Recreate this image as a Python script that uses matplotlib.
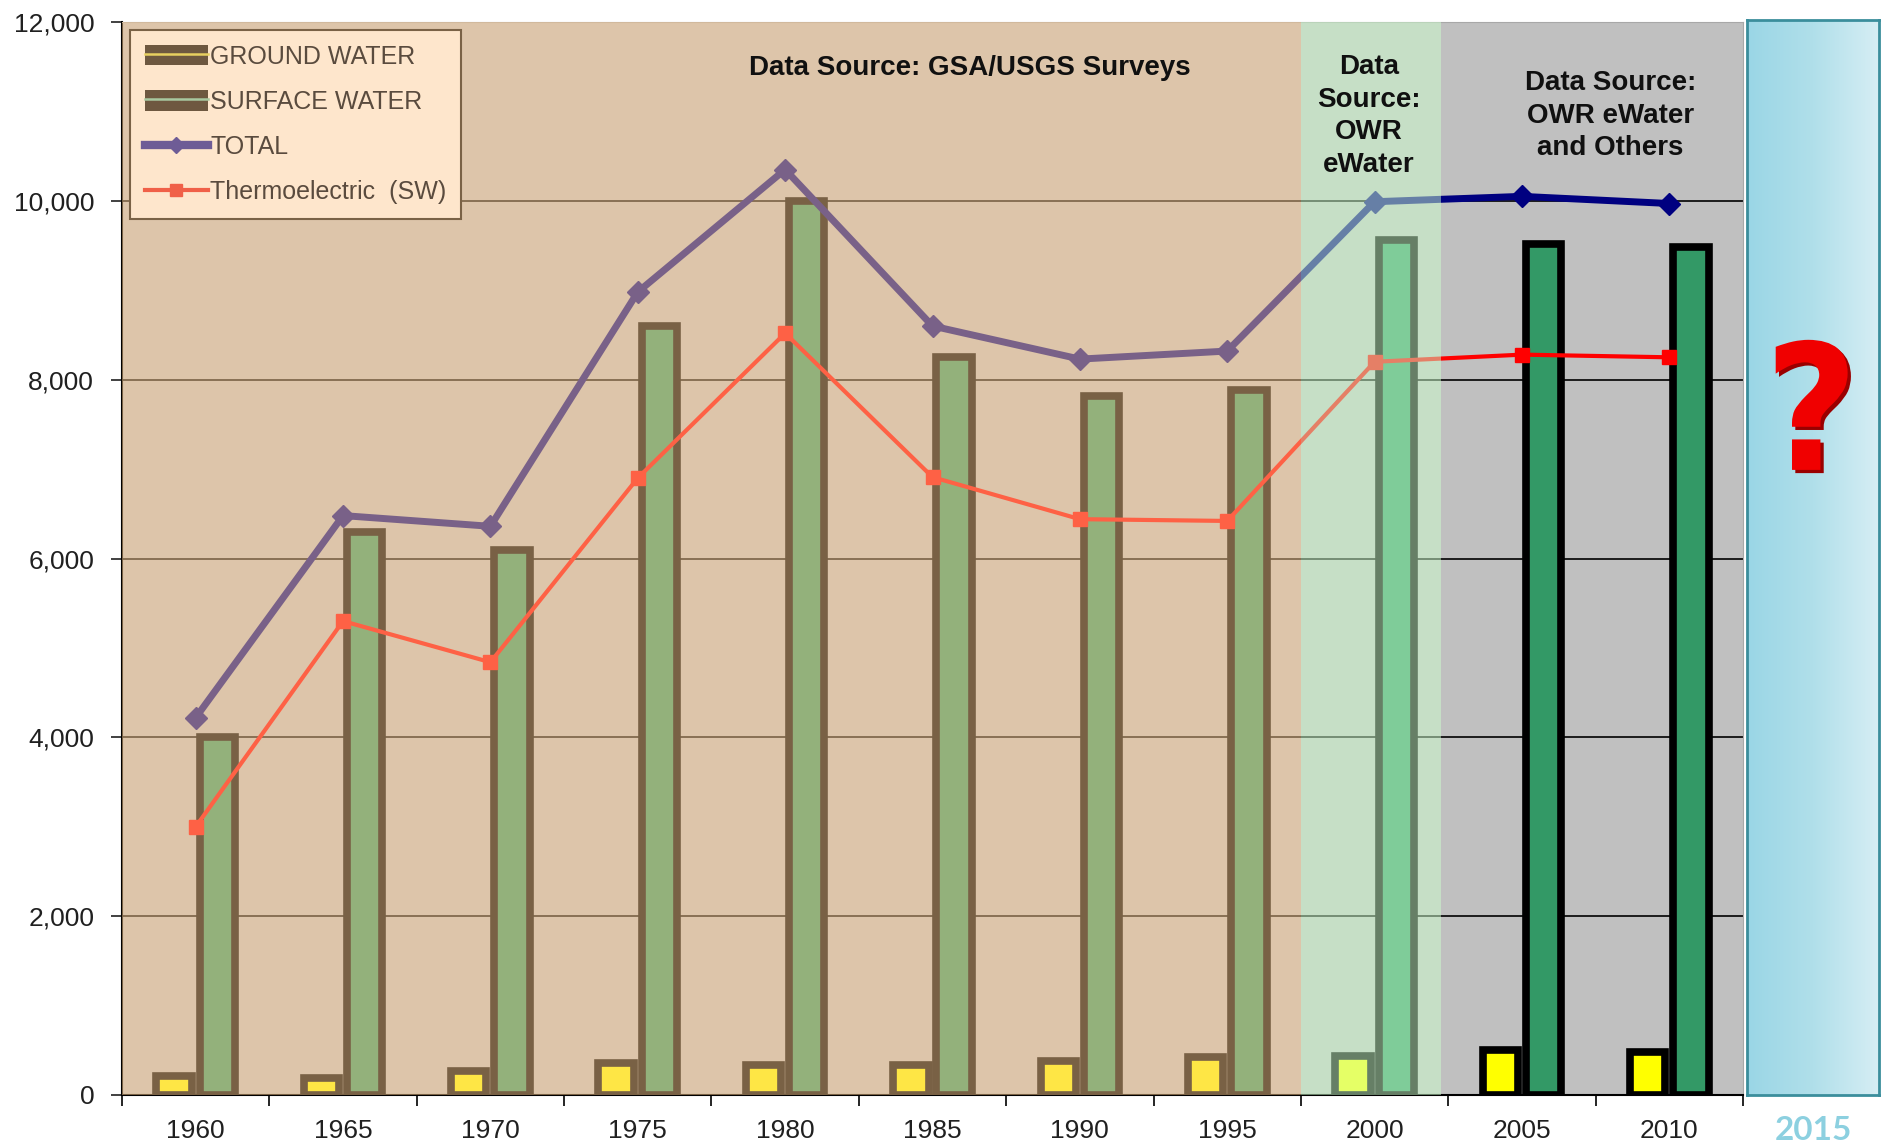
import numpy as np
import matplotlib
matplotlib.use('Agg')
import matplotlib.pyplot as plt
from matplotlib.lines import Line2D
from matplotlib.patches import Patch, PathPatch
from matplotlib.colors import LinearSegmentedColormap
from matplotlib.textpath import TextPath
from matplotlib.font_manager import FontProperties
from matplotlib.transforms import Affine2D

# water use values
years = ['1960', '1965', '1970', '1975', '1980', '1985', '1990', '1995', '2000', '2005', '2010']
ground_water = [210, 190, 270, 360, 340, 340, 380, 420, 440, 500, 480]
surface_water = [4000, 6300, 6100, 8600, 10000, 8250, 7820, 7880, 9560, 9520, 9480]
total = [4220, 6480, 6360, 8980, 10350, 8600, 8230, 8320, 9990, 10050, 9970]
thermoelectric = [3000, 5300, 4840, 6900, 8520, 6910, 6440, 6420, 8200, 8280, 8250]
y_ticks = [0, 2000, 4000, 6000, 8000, 10000, 12000]
future_year = '2015'

plt.rcParams['font.family'] = ['Liberation Sans', 'DejaVu Sans']

W, H = 1885, 1147
fig = plt.figure(figsize=(W / 100, H / 100), dpi=100)
ax = fig.add_axes([122 / W, 1 - 1095 / H, (1743 - 122) / W, (1095 - 22) / H])
ax.set_facecolor('#C0C0C0')

x = np.arange(len(years))
bw = 0.24
off = 0.147
ax.bar(x - off, ground_water, bw, color='#FFFF00', edgecolor='black', linewidth=5.5, zorder=2)
ax.bar(x + off, surface_water, bw, color='#339966', edgecolor='black', linewidth=5.5, zorder=2)
ax.plot(x, total, color='#000080', lw=5, marker='D', ms=11, zorder=3)
ax.plot(x, thermoelectric, color='#FF0000', lw=3, marker='s', ms=10, zorder=3)

ax.set_xlim(-0.5, len(years) - 0.5)
ax.set_ylim(0, 12000)
ax.set_yticks(y_ticks)
ax.set_yticklabels([f'{v:,}' for v in y_ticks])
ax.yaxis.grid(True, color='black', lw=1.2)
ax.set_axisbelow(True)

ax.set_xticks(x)
ax.set_xticklabels(years)
ax.set_xticks(np.arange(len(years) + 1) - 0.5, minor=True)
ax.tick_params(axis='x', which='major', length=0, pad=17, labelsize=19, colors='#202020')
ax.tick_params(axis='x', which='minor', length=8, width=1.2, color='black')
ax.tick_params(axis='y', length=8, width=1.2, pad=12, labelsize=19, colors='#202020')

for s in ['top', 'right']:
    ax.spines[s].set_color('#A8A8A8')
ax.spines['left'].set_color('black')
ax.spines['left'].set_linewidth(1.5)
ax.spines['bottom'].set_linewidth(1.5)

# translucent data-source regions
ax.axvspan(-0.5, 7.5, color='#FECC92', alpha=0.48, lw=0, zorder=5)
ax.axvspan(7.5, 8.45, color='#CCFFCC', alpha=0.5, lw=0, zorder=5)

# legend, coloured as it looks through the tan overlay
brown = '#6E5840'
handles = [
    (Patch(facecolor=brown, edgecolor='none'), Line2D([], [], color='#E8D060', lw=1.8)),
    (Patch(facecolor=brown, edgecolor='none'), Line2D([], [], color='#A8C8A0', lw=1.8)),
    Line2D([], [], color='#6E5C96', lw=6, marker='D', ms=8),
    Line2D([], [], color='#F06048', lw=3, marker='s', ms=9),
]
labels = ['GROUND WATER', 'SURFACE WATER', 'TOTAL', 'Thermoelectric  (SW)']
leg = ax.legend(handles, labels, loc='upper left', bbox_to_anchor=(0.005, 0.993),
                borderaxespad=0, fontsize=18, fancybox=False, framealpha=1,
                facecolor='#FEE6CC', edgecolor='#7A6246', handlelength=2.5,
                handleheight=0.9, handletextpad=0.1, labelspacing=0.85, borderpad=0.6,
                labelcolor='#5A4B3E')
leg.get_frame().set_linewidth(1.5)
leg.set_zorder(6)

ax.text(5.25, 11490, 'Data Source: GSA/USGS Surveys', ha='center', va='center',
        fontsize=20, fontweight='bold', color='#101010', zorder=10)
ax.text(7.96, 10950, 'Data\nSource:\nOWR\neWater', ha='center', va='center',
        fontsize=20, fontweight='bold', color='#101010', linespacing=1.33, zorder=10)
ax.text(9.6, 10950, 'Data Source:\nOWR eWater\nand Others', ha='center', va='center',
        fontsize=20, fontweight='bold', color='#101010', linespacing=1.33, zorder=10)

# 2015 placeholder panel
ax2 = fig.add_axes([1747 / W, 1 - 1095 / H, (1879 - 1747) / W, (1095 - 20) / H])
grad = np.linspace(0, 1, 200).reshape(1, -1)
cmap = LinearSegmentedColormap.from_list('panel', ['#9AD6E6', '#B0DFEA', '#D6EEF4'])
ax2.imshow(grad, aspect='auto', cmap=cmap, extent=[0, 1, 0, 1])
ax2.set_xlim(0, 1)
ax2.set_ylim(0, 1)
ax2.set_xticks([])
ax2.set_yticks([])
for s in ax2.spines.values():
    s.set_color('#3B8E9C')
    s.set_linewidth(2)

# big red question mark, squeezed to the reference proportions
qpath = TextPath((0, 0), '?', size=1, prop=FontProperties(family='DejaVu Sans', weight='bold'))
ext = qpath.get_extents()
qw, qh = 0.545, 0.121
sx, sy = qw / ext.width, qh / ext.height
for dx, dy, col in [(0.025, -0.003, '#9A0000'), (0, 0, '#F00000')]:
    tr = Affine2D().translate(-ext.x0 - ext.width / 2, -ext.y0 - ext.height / 2) \
        .scale(sx, sy).translate(0.49 + dx, 0.642 + dy)
    ax2.add_patch(PathPatch(tr.transform_path(qpath), color=col, lw=0, zorder=5))

ax2.text(0.5, -0.033, future_year, ha='center', va='center', fontsize=24,
         fontweight='bold', family='Lato', color='#8CD0E0', transform=ax2.transAxes,
         clip_on=False)

fig.savefig('out.png', dpi=100)
